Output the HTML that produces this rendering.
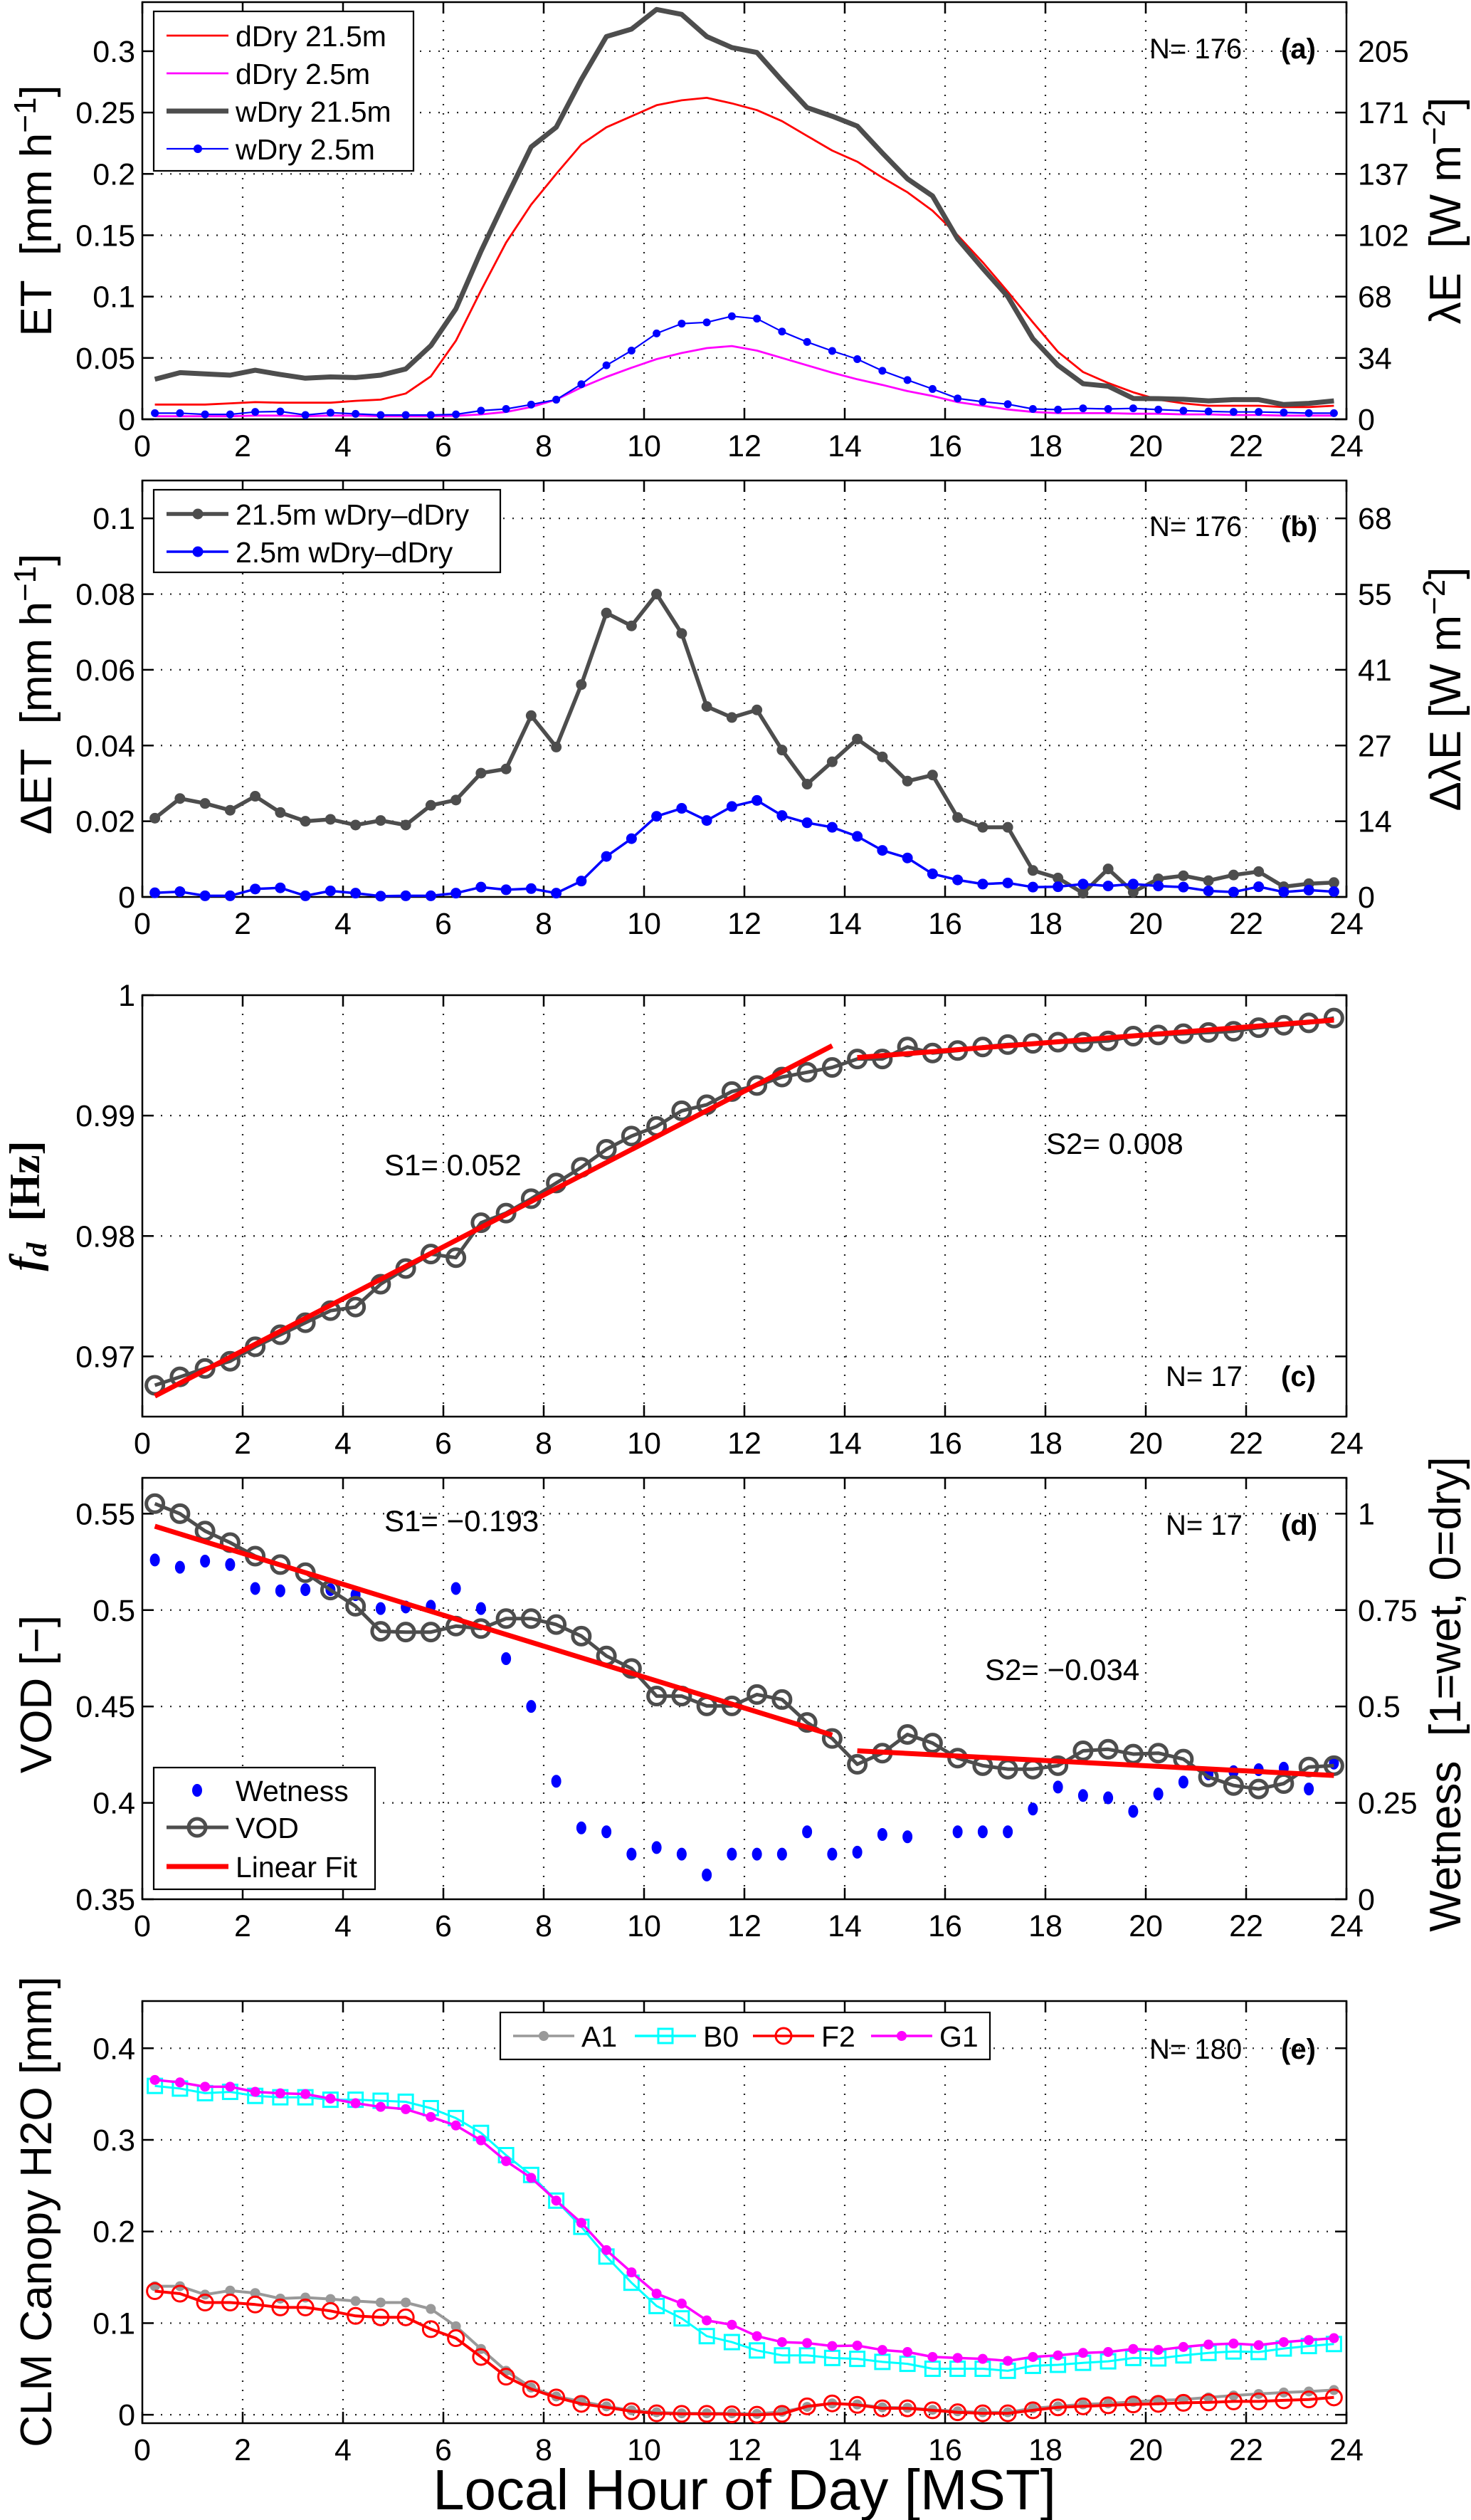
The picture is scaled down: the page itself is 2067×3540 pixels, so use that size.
<!DOCTYPE html>
<html><head><meta charset="utf-8">
<style>
html,body{margin:0;padding:0;background:#fff;}
svg{display:block;font-family:"Liberation Sans",sans-serif;}
</style></head>
<body>
<svg id="fig" width="2067" height="3540" viewBox="0 0 2067 3540" xmlns="http://www.w3.org/2000/svg"></svg>
<script>
const hours = [];
for (let i = 0; i < 48; i++) hours.push(0.25 + 0.5 * i);
const xTicks = [0,2,4,6,8,10,12,14,16,18,20,22,24];

// Panel (a)
const aDry21 = [0.012,0.012,0.012,0.013,0.014,0.0135,0.0135,0.0135,0.015,0.016,0.021,0.035,0.064,0.105,0.144,0.175,0.2,0.224,0.238,0.247,0.256,0.26,0.262,0.2575,0.252,0.243,0.231,0.219,0.21,0.197,0.185,0.17,0.15,0.128,0.104,0.079,0.055,0.0385,0.0296,0.022,0.016,0.013,0.011,0.011,0.011,0.010,0.010,0.011];
const aDry25 = [0.0025,0.0025,0.0025,0.0025,0.003,0.003,0.0025,0.003,0.003,0.0025,0.0025,0.0025,0.0028,0.004,0.006,0.01,0.016,0.026,0.0345,0.042,0.049,0.054,0.058,0.0597,0.056,0.05,0.044,0.038,0.0326,0.028,0.023,0.019,0.014,0.011,0.008,0.006,0.005,0.005,0.005,0.0045,0.0045,0.004,0.004,0.0035,0.0035,0.003,0.003,0.003];
const aWet21 = [0.0326,0.038,0.037,0.036,0.040,0.0365,0.0335,0.0345,0.034,0.036,0.041,0.06,0.09,0.137,0.18,0.222,0.238,0.277,0.312,0.318,0.334,0.33,0.312,0.303,0.299,0.276,0.254,0.247,0.239,0.217,0.196,0.182,0.147,0.123,0.100,0.0656,0.044,0.029,0.027,0.017,0.0168,0.0163,0.015,0.016,0.016,0.012,0.013,0.015];
const aWet25 = [0.005,0.005,0.004,0.004,0.006,0.0064,0.0035,0.0054,0.0044,0.0035,0.0035,0.0035,0.004,0.007,0.0084,0.012,0.016,0.0286,0.044,0.056,0.07,0.078,0.079,0.084,0.082,0.0715,0.063,0.0557,0.049,0.0395,0.032,0.0247,0.017,0.0143,0.0123,0.0084,0.0079,0.0089,0.0084,0.0089,0.0079,0.007,0.0064,0.006,0.006,0.0055,0.005,0.005];
const aLeftTicks = [0,0.05,0.1,0.15,0.2,0.25,0.3];
const aLeftLabels = ["0","0.05","0.1","0.15","0.2","0.25","0.3"];
const aRightLabels = ["0","34","68","102","137","171","205"];

// Panel (b)
const bDiff21 = [0.0208,0.026,0.0247,0.0229,0.0266,0.0223,0.020,0.0205,0.019,0.0202,0.019,0.0242,0.0256,0.0327,0.0338,0.0479,0.0396,0.0561,0.075,0.0716,0.080,0.0696,0.0503,0.0474,0.0494,0.0388,0.0298,0.0357,0.0417,0.037,0.0306,0.0322,0.021,0.0184,0.0184,0.007,0.005,0.001,0.0074,0.0013,0.0048,0.0056,0.0043,0.0058,0.0067,0.0027,0.0035,0.0038];
const bDiff25 = [0.0011,0.0014,0.0003,0.0003,0.0021,0.0024,0.0003,0.0016,0.001,0.0002,0.0003,0.0003,0.001,0.0026,0.0019,0.0022,0.001,0.0042,0.0107,0.0154,0.0213,0.0234,0.0202,0.0239,0.0255,0.0215,0.0196,0.0184,0.016,0.0123,0.0103,0.0061,0.0045,0.0034,0.0037,0.0026,0.0027,0.0034,0.0029,0.0034,0.0029,0.0026,0.0016,0.0013,0.0027,0.0013,0.0018,0.0014];
const bLeftTicks = [0,0.02,0.04,0.06,0.08,0.1];
const bLeftLabels = ["0","0.02","0.04","0.06","0.08","0.1"];
const bRightLabels = ["0","14","27","41","55","68"];

// Panel (c)
const cFd = [0.9676,0.9683,0.969,0.9696,0.9708,0.9718,0.9728,0.9738,0.9741,0.976,0.9773,0.9785,0.9782,0.9811,0.9819,0.9831,0.9844,0.9857,0.9872,0.9883,0.9891,0.9904,0.9909,0.992,0.9925,0.9932,0.9936,0.994,0.9947,0.9947,0.9957,0.9952,0.9954,0.9957,0.9959,0.996,0.9961,0.9961,0.9962,0.9966,0.9967,0.9968,0.9969,0.997,0.9973,0.9975,0.9977,0.9981];
const cFit1X = [0.25,13.75];
const cFit1Y = [0.9667,0.9958];
const cFit2X = [14.25,23.75];
const cFit2Y = [0.99482,0.99793];
const cTicks = [0.97,0.98,0.99,1];
const cLabels = ["0.97","0.98","0.99","1"];

// Panel (d)
const dVod = [0.5552,0.55,0.541,0.535,0.528,0.5236,0.5194,0.5104,0.502,0.489,0.4886,0.4886,0.4917,0.4904,0.4956,0.4956,0.4925,0.4865,0.4762,0.4697,0.4554,0.4554,0.4503,0.4503,0.4562,0.4536,0.4417,0.4334,0.42,0.4258,0.4355,0.431,0.4232,0.4193,0.4175,0.4175,0.4193,0.427,0.4278,0.4253,0.4258,0.4227,0.4134,0.409,0.4072,0.410,0.4186,0.4193];
const dWet = [0.88,0.861,0.877,0.868,0.806,0.80,0.803,0.803,0.79,0.754,0.758,0.76,0.806,0.754,0.624,0.50,0.306,0.185,0.175,0.117,0.134,0.117,0.063,0.117,0.117,0.117,0.175,0.117,0.122,0.168,0.162,null,0.175,0.175,0.175,0.234,0.291,0.269,0.263,0.228,0.273,0.304,0.325,0.331,0.336,0.34,0.286,0.353];
const dFit1X = [0.25,13.75];
const dFit1Y = [0.5435,0.4352];
const dFit2X = [14.25,23.75];
const dFit2Y = [0.427,0.4142];
const dTicks = [0.35,0.4,0.45,0.5,0.55];
const dLabels = ["0.35","0.4","0.45","0.5","0.55"];
const dRightTicks = [0,0.25,0.5,0.75,1];
const dRightLabels = ["0","0.25","0.5","0.75","1"];

// Panel (e)
const eA1 = [0.1403,0.1403,0.1311,0.1355,0.1328,0.1268,0.1279,0.1263,0.1241,0.1225,0.1225,0.1155,0.0966,0.0718,0.048,0.0297,0.02,0.0146,0.0092,0.0049,0.0027,0.0016,0.0016,0.0016,0.001,0.0032,0.0086,0.0124,0.0113,0.0081,0.0076,0.0054,0.0038,0.0027,0.0027,0.007,0.0092,0.0113,0.0124,0.014,0.0157,0.0167,0.0189,0.021,0.0227,0.0243,0.0254,0.027];
const eB0 = [0.3589,0.356,0.351,0.3524,0.348,0.3465,0.3465,0.3438,0.3438,0.3427,0.3416,0.3346,0.3238,0.3076,0.2833,0.2617,0.2337,0.2051,0.1727,0.1441,0.1187,0.1052,0.0858,0.0793,0.0702,0.0648,0.0648,0.062,0.061,0.0577,0.0556,0.0502,0.0502,0.0502,0.048,0.0534,0.0545,0.0567,0.0583,0.062,0.0615,0.0648,0.0675,0.0691,0.0685,0.0723,0.075,0.0772];
const eF2 = [0.1349,0.1322,0.1225,0.1225,0.1203,0.1171,0.1171,0.1133,0.1079,0.1063,0.1063,0.0934,0.0836,0.0631,0.0416,0.0281,0.0189,0.0119,0.0081,0.0038,0.0016,0.001,0.001,0.0005,0,0.001,0.0092,0.0124,0.0108,0.007,0.007,0.0049,0.0027,0.0016,0.0016,0.0049,0.0081,0.0092,0.0103,0.0113,0.0119,0.013,0.0135,0.0146,0.0146,0.0157,0.0167,0.0189];
const eG1 = [0.3654,0.3627,0.358,0.358,0.3524,0.3508,0.35,0.345,0.34,0.336,0.3335,0.325,0.3157,0.2995,0.2768,0.2585,0.2337,0.2094,0.1797,0.1554,0.1322,0.1214,0.103,0.0982,0.0858,0.0793,0.0783,0.075,0.0755,0.0707,0.0685,0.0631,0.062,0.061,0.0588,0.0631,0.0648,0.0675,0.0685,0.0718,0.0707,0.074,0.0766,0.0777,0.076,0.0793,0.0815,0.0836];
const eTicks = [0,0.1,0.2,0.3,0.4];
const eLabels = ["0","0.1","0.2","0.3","0.4"];

const NS = "http://www.w3.org/2000/svg";
const svg = document.getElementById('fig');
const X0 = 200, X1 = 1892;
function sx(h){ return X0 + (h/24)*(X1-X0); }
function mk(tag, attrs, parent){
  const e = document.createElementNS(NS, tag);
  for (const k in attrs) e.setAttribute(k, attrs[k]);
  (parent||svg).appendChild(e);
  return e;
}
function txt(str, x, y, size, parent, extra){
  const t = mk('text', Object.assign({x:x, y:y, 'font-size':size, fill:'#000'}, extra||{}), parent);
  t.textContent = str;
  return t;
}
function scaleY(top, bottom, lo, hi){ return v => bottom - (v-lo)/(hi-lo)*(bottom-top); }

function drawAxes(g, top, bottom, yfn, yticks, ylabels, rightTicksPix, rightLabels){
  // grid
  const grid = mk('g', {stroke:'#222','stroke-width':2.2,'stroke-dasharray':'2 11'}, g);
  
  
  xTicks.forEach(t => { if (t>0 && t<24) mk('line',{x1:sx(t),x2:sx(t),y1:top,y2:bottom},grid); });
  yticks.forEach(v => { const y=yfn(v); if (y>top+2 && y<bottom-2) mk('line',{x1:X0,x2:X1,y1:y,y2:y},grid); });
  // frame
  const fr = mk('rect',{x:X0,y:top,width:X1-X0,height:bottom-top,fill:'none',stroke:'#000','stroke-width':2.5},g);
  
  
  const tk = mk('g',{stroke:'#000','stroke-width':2.5},g);
  xTicks.forEach(t => {
    mk('line',{x1:sx(t),x2:sx(t),y1:bottom,y2:bottom-16},tk);
    mk('line',{x1:sx(t),x2:sx(t),y1:top,y2:top+16},tk);
  });
  yticks.forEach(v => { const y=yfn(v); mk('line',{x1:X0,x2:X0+16,y1:y,y2:y},tk); if(!rightTicksPix) mk('line',{x1:X1,x2:X1-16,y1:y,y2:y},tk); });
  if (rightTicksPix) rightTicksPix.forEach(y => mk('line',{x1:X1,x2:X1-16,y1:y,y2:y},tk));
  // x labels
  const xl = mk('g',{},g);
  
  
  xTicks.forEach(t => txt(String(t), sx(t), bottom+52, 43, xl, {'text-anchor':'middle'}));
  const yl = mk('g',{},g);
  
  
  yticks.forEach((v,i) => txt(ylabels[i], 190, yfn(v)+15, 43, yl, {'text-anchor':'end'}));
  if (rightTicksPix){
    const yr = mk('g',{},g);
    
    
    rightTicksPix.forEach((y,i) => txt(rightLabels[i], 1908, y+15, 43, yr));
  }
}
function polyline(g, xs, ys, fx, fy, attrs){
  const pts = [];
  xs.forEach((h,i) => { if (ys[i]!==null) pts.push(fx(h).toFixed(1)+','+fy(ys[i]).toFixed(1)); });
  return mk('polyline', Object.assign({points:pts.join(' '), fill:'none','stroke-linejoin':'round'}, attrs), g);
}
function vlabel(g, str, cx, cy, size, extra){
  const t = txt('', 0, 0, size, g, Object.assign({'text-anchor':'middle', transform:`translate(${cx},${cy}) rotate(-90)`}, extra||{}));
  t.innerHTML = str;
  return t;
}

// ===== Panel (a)
(function(){
  const top=3, bottom=589;
  const fy = scaleY(top,bottom,0,0.34);
  const g = mk('g',{});  
  drawAxes(g, top, bottom, fy, aLeftTicks, aLeftLabels, aLeftTicks.map(fy), aRightLabels);
  let l;
  l = polyline(g, hours, aDry21, sx, fy, {stroke:'#ff0000','stroke-width':2.8});
   
  l = polyline(g, hours, aDry25, sx, fy, {stroke:'#ff00ff','stroke-width':2.8});
   
  l = polyline(g, hours, aWet21, sx, fy, {stroke:'#4d4d4d','stroke-width':7});
   
  l = polyline(g, hours, aWet25, sx, fy, {stroke:'#0000ff','stroke-width':2.2});
   
  hours.forEach((h,i) => { const c = mk('circle',{cx:sx(h),cy:fy(aWet25[i]),r:5.5,fill:'#0000ff'},g);   });
  // legend
  const lg = mk('g',{});  
  mk('rect',{x:216,y:16,width:365,height:224,fill:'#fff',stroke:'#000','stroke-width':2.2},lg);
  const ent = [['dDry 21.5m','#ff0000',2.8,false],['dDry 2.5m','#ff00ff',2.8,false],['wDry 21.5m','#4d4d4d',7,false],['wDry 2.5m','#0000ff',2.2,true]];
  ent.forEach((e,i) => {
    const y = 65 + i*53;
    mk('line',{x1:234,x2:321,y1:y-15,y2:y-15,stroke:e[1],'stroke-width':e[2]},lg);
    if (e[3]) mk('circle',{cx:278,cy:y-15,r:6,fill:'#0000ff'},lg);
    txt(e[0], 331, y, 41, lg);
  });
  const n = txt('N= 176', 1615, 82, 40, g);  
  const p = txt('(a)', 1800, 82, 40, g, {'font-weight':'bold'});  
  const yl = vlabel(g, 'ET&#160;&#160;[mm h<tspan dy="-22" font-size="44">&#8722;1</tspan><tspan dy="22">]</tspan>', 72, 296, 62);
   
  const yr = vlabel(g, '&#955;E&#160;&#160;[W m<tspan dy="-22" font-size="44">&#8722;2</tspan><tspan dy="22">]</tspan>', 2052, 296, 62);
   
})();

// ===== Panel (b)
(function(){
  const top=675, bottom=1260;
  const fy = scaleY(top,bottom,0,0.11);
  const g = mk('g',{});  
  drawAxes(g, top, bottom, fy, bLeftTicks, bLeftLabels, bLeftTicks.map(fy), bRightLabels);
  let l = polyline(g, hours, bDiff21, sx, fy, {stroke:'#4d4d4d','stroke-width':5.5});
   
  hours.forEach((h,i) => { const c = mk('circle',{cx:sx(h),cy:fy(bDiff21[i]),r:7.5,fill:'#4d4d4d'},g);   });
  l = polyline(g, hours, bDiff25, sx, fy, {stroke:'#0000ff','stroke-width':3.5});
   
  hours.forEach((h,i) => { const c = mk('circle',{cx:sx(h),cy:fy(bDiff25[i]),r:7.5,fill:'#0000ff'},g);   });
  const lg = mk('g',{});  
  mk('rect',{x:216,y:688,width:487,height:116,fill:'#fff',stroke:'#000','stroke-width':2.2},lg);
  [['21.5m wDry\u2013dDry','#4d4d4d',5.5],['2.5m wDry\u2013dDry','#0000ff',3.5]].forEach((e,i) => {
    const y = 737 + i*53;
    mk('line',{x1:234,x2:321,y1:y-15,y2:y-15,stroke:e[1],'stroke-width':e[2]},lg);
    mk('circle',{cx:278,cy:y-15,r:7.5,fill:e[1]},lg);
    txt(e[0], 331, y, 41, lg);
  });
  const n = txt('N= 176', 1615, 753, 40, g);  
  const p = txt('(b)', 1800, 753, 40, g, {'font-weight':'bold'});  
  const yl = vlabel(g, '&#916;ET&#160;&#160;[mm h<tspan dy="-22" font-size="44">&#8722;1</tspan><tspan dy="22">]</tspan>', 72, 975, 62);
   
  const yr = vlabel(g, '&#916;&#955;E [W m<tspan dy="-22" font-size="44">&#8722;2</tspan><tspan dy="22">]</tspan>', 2052, 968, 62);
   
})();

// ===== Panel (c)
(function(){
  const top=1398, bottom=1990;
  const fy = scaleY(top,bottom,0.965,1.0);
  const g = mk('g',{});  
  drawAxes(g, top, bottom, fy, cTicks, cLabels, null, null);
  let l = polyline(g, hours, cFd, sx, fy, {stroke:'#4d4d4d','stroke-width':5});
   
  hours.forEach((h,i) => { const c = mk('circle',{cx:sx(h),cy:fy(cFd[i]),r:12,fill:'none',stroke:'#4d4d4d','stroke-width':5},g);   });
  l = polyline(g, cFit1X, cFit1Y, sx, fy, {stroke:'#ff0000','stroke-width':7});
   
  l = polyline(g, cFit2X, cFit2Y, sx, fy, {stroke:'#ff0000','stroke-width':7});
   
  let t = txt('S1= 0.052', 540, 1651, 42, g);  
  t = txt('S2= 0.008', 1470, 1621, 42, g);  
  t = txt('N= 17', 1638, 1947, 40, g);  
  t = txt('(c)', 1800, 1947, 40, g, {'font-weight':'bold'});  
  const yl = vlabel(g, '<tspan font-style="italic">f<tspan font-size="40" dy="10">d</tspan></tspan><tspan dy="-10">&#160;&#160;[Hz]</tspan>', 55, 1694, 60, {'font-family':'"Liberation Serif",serif','font-weight':'bold'});
   
})();

// ===== Panel (d)
(function(){
  const top=2076, bottom=2668;
  const fy = scaleY(top,bottom,0.35,0.5686);
  const fw = w => fy(0.35 + w*0.2/1.0 * 0.25/0.25 * 1) ; // wetness 0..1 maps to 0.35..0.55
  const g = mk('g',{});  
  drawAxes(g, top, bottom, fy, dTicks, dLabels, dRightTicks.map(fw), dRightLabels);
  hours.forEach((h,i) => { if (dWet[i]===null) return; const c = mk('ellipse',{cx:sx(h),cy:fw(dWet[i]),rx:7,ry:9,fill:'#0000ff'},g);   });
  let l = polyline(g, hours, dVod, sx, fy, {stroke:'#4d4d4d','stroke-width':5});
   
  hours.forEach((h,i) => { const c = mk('circle',{cx:sx(h),cy:fy(dVod[i]),r:12,fill:'none',stroke:'#4d4d4d','stroke-width':5},g);   });
  l = polyline(g, dFit1X, dFit1Y, sx, fy, {stroke:'#ff0000','stroke-width':7});
   
  l = polyline(g, dFit2X, dFit2Y, sx, fy, {stroke:'#ff0000','stroke-width':7});
   
  let t = txt('S1= \u22120.193', 540, 2151, 42, g);  
  t = txt('S2= \u22120.034', 1384, 2360, 42, g);  
  t = txt('N= 17', 1638, 2156, 40, g);  
  t = txt('(d)', 1800, 2156, 40, g, {'font-weight':'bold'});  
  const lg = mk('g',{});  
  mk('rect',{x:216,y:2483,width:311,height:171,fill:'#fff',stroke:'#000','stroke-width':2.2},lg);
  mk('ellipse',{cx:277,cy:2515,rx:7,ry:9,fill:'#0000ff'},lg);
  txt('Wetness', 331, 2530, 41, lg);
  mk('line',{x1:234,x2:321,y1:2567,y2:2567,stroke:'#4d4d4d','stroke-width':5},lg);
  mk('circle',{cx:277,cy:2567,r:12,fill:'none',stroke:'#4d4d4d','stroke-width':5},lg);
  txt('VOD', 331, 2582, 41, lg);
  mk('line',{x1:234,x2:321,y1:2622,y2:2622,stroke:'#ff0000','stroke-width':7},lg);
  txt('Linear Fit', 331, 2637, 41, lg);
  const yl = vlabel(g, 'VOD [\u2212]', 72, 2380, 62);
   
  const yr = vlabel(g, 'Wetness&#160;&#160;[1=wet, 0=dry]', 2052, 2380, 62);
   
})();

// ===== Panel (e)
(function(){
  const top=2811, bottom=3404;
  const fy = scaleY(top,bottom,-0.0092,0.4515);
  const g = mk('g',{});  
  drawAxes(g, top, bottom, fy, eTicks, eLabels, null, null);
  let l;
  l = polyline(g, hours, eA1, sx, fy, {stroke:'#999999','stroke-width':4});
   
  hours.forEach((h,i)=>{ const c=mk('circle',{cx:sx(h),cy:fy(eA1[i]),r:7,fill:'#999999'},g);   });
  l = polyline(g, hours, eB0, sx, fy, {stroke:'#00ffff','stroke-width':3});
   
  hours.forEach((h,i)=>{ const c=mk('rect',{x:sx(h)-10,y:fy(eB0[i])-10,width:20,height:20,fill:'none',stroke:'#00ffff','stroke-width':3},g);   });
  l = polyline(g, hours, eF2, sx, fy, {stroke:'#ff0000','stroke-width':4});
   
  hours.forEach((h,i)=>{ const c=mk('circle',{cx:sx(h),cy:fy(eF2[i]),r:11,fill:'none',stroke:'#ff0000','stroke-width':3},g);   });
  l = polyline(g, hours, eG1, sx, fy, {stroke:'#ff00ff','stroke-width':3.5});
   
  hours.forEach((h,i)=>{ const c=mk('circle',{cx:sx(h),cy:fy(eG1[i]),r:7,fill:'#ff00ff'},g);   });
  const lg = mk('g',{});  
  mk('rect',{x:703,y:2827,width:688,height:66,fill:'#fff',stroke:'#000','stroke-width':2.2},lg);
  const ents = [['A1','#999999','dot',721],['B0','#00ffff','sq',892],['F2','#ff0000','circ',1058],['G1','#ff00ff','mdot',1224]];
  ents.forEach(e => {
    const x0 = e[3], cy = 2860;
    mk('line',{x1:x0,x2:x0+86,y1:cy,y2:cy,stroke:e[1],'stroke-width':3.5},lg);
    const cx = x0+43;
    if (e[2]==='dot'||e[2]==='mdot') mk('circle',{cx:cx,cy:cy,r:7,fill:e[1]},lg);
    if (e[2]==='sq') mk('rect',{x:cx-10,y:cy-10,width:20,height:20,fill:'none',stroke:e[1],'stroke-width':3},lg);
    if (e[2]==='circ') mk('circle',{cx:cx,cy:cy,r:11,fill:'none',stroke:e[1],'stroke-width':3},lg);
    txt(e[0], x0+96, cy+15, 41, lg);
  });
  let t = txt('N= 180', 1615, 2892, 40, g);  
  t = txt('(e)', 1800, 2892, 40, g, {'font-weight':'bold'});  
  const yl = vlabel(g, 'CLM Canopy H2O [mm]', 72, 3107, 62);
   
  t = txt('Local Hour of Day  [MST]', 1046, 3525, 80, g, {'text-anchor':'middle','xml:space':'preserve'});
   
})();
</script>
</body></html>
